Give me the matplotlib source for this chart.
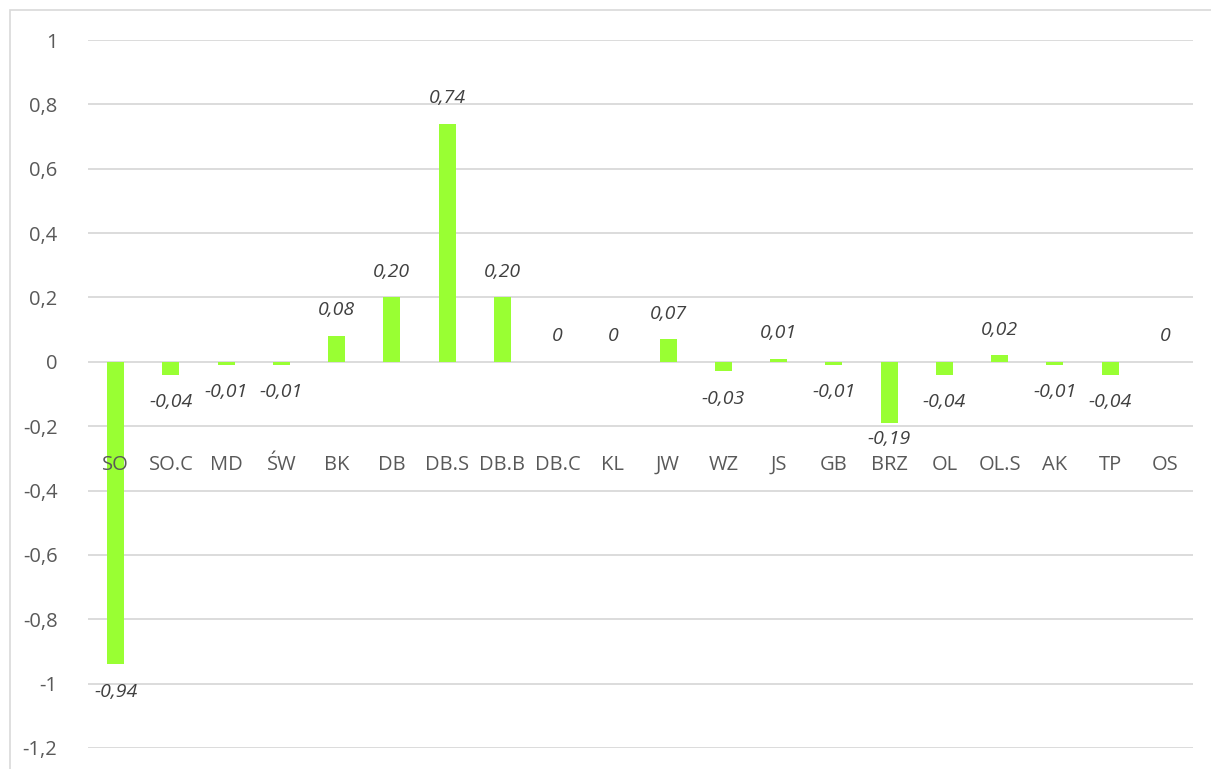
import numpy as np
import matplotlib.pyplot as plt
from matplotlib.patches import Rectangle
from matplotlib.ticker import FuncFormatter

CATEGORIES = ["SO", "SO.C", "MD", "ŚW", "BK", "DB", "DB.S", "DB.B", "DB.C", "KL",
              "JW", "WZ", "JS", "GB", "BRZ", "OL", "OL.S", "AK", "TP", "OS"]
VALUES = [-0.94, -0.04, -0.01, -0.01, 0.08, 0.20, 0.74, 0.20, 0.0, 0.0,
          0.07, -0.03, 0.01, -0.01, -0.19, -0.04, 0.02, -0.01, -0.04, 0.0]
LABELS = ["-0,94", "-0,04", "-0,01", "-0,01", "0,08", "0,20", "0,74", "0,20", "0", "0",
          "0,07", "-0,03", "0,01", "-0,01", "-0,19", "-0,04", "0,02", "-0,01", "-0,04", "0"]

plt.rcParams['font.family'] = ['Open Sans', 'DejaVu Sans']
TXT = '#595959'
CAT_Y = -0.32


def fmt(v, pos):
    v = round(v, 1)
    if v == 0:
        return '0'
    return ('%g' % v).replace('.', ',')


fig = plt.figure(figsize=(12.11, 7.69), dpi=100)
ax = fig.add_axes([88 / 1211, (769 - 748) / 769, (1193 - 88) / 1211, (748 - 40) / 769])

x = np.arange(len(CATEGORIES))
ax.bar(x, VALUES, width=0.31, color='#99FF33', zorder=3)

ax.set_xlim(-0.5, len(CATEGORIES) - 0.5)
ax.set_ylim(-1.2, 1.0)
ax.set_yticks(np.arange(-1.2, 1.01, 0.2))
ax.yaxis.set_major_formatter(FuncFormatter(fmt))
ax.grid(axis='y', color='#d9d9d9', linewidth=1.3, zorder=0)
ax.tick_params(axis='y', length=0, pad=22, labelsize=14.5, labelcolor=TXT)
ax.set_xticks([])
for s in ax.spines.values():
    s.set_visible(False)

# category labels sit below the zero line
for i, c in enumerate(CATEGORIES):
    ax.text(i, CAT_Y, c, ha='center', va='center', fontsize=14.5, color=TXT, zorder=4)

# value labels
for i, (v, lab) in enumerate(zip(VALUES, LABELS)):
    if v < 0:
        ly = v - 0.085
        if CAT_Y < v and ly < CAT_Y + 0.08:
            ly = CAT_Y + 0.08  # keep clear of the category row
    else:
        ly = v + 0.08
    ax.text(i, ly, lab, ha='center', va='center', fontsize=14, style='italic', color='#404040', zorder=4)

fig.patches.append(Rectangle((10 / 1211, -0.1), 1.2, (769 - 10) / 769 + 0.1, transform=fig.transFigure,
                             fill=False, edgecolor='#d9d9d9', linewidth=1.2))

fig.savefig('out.png', dpi=100)
